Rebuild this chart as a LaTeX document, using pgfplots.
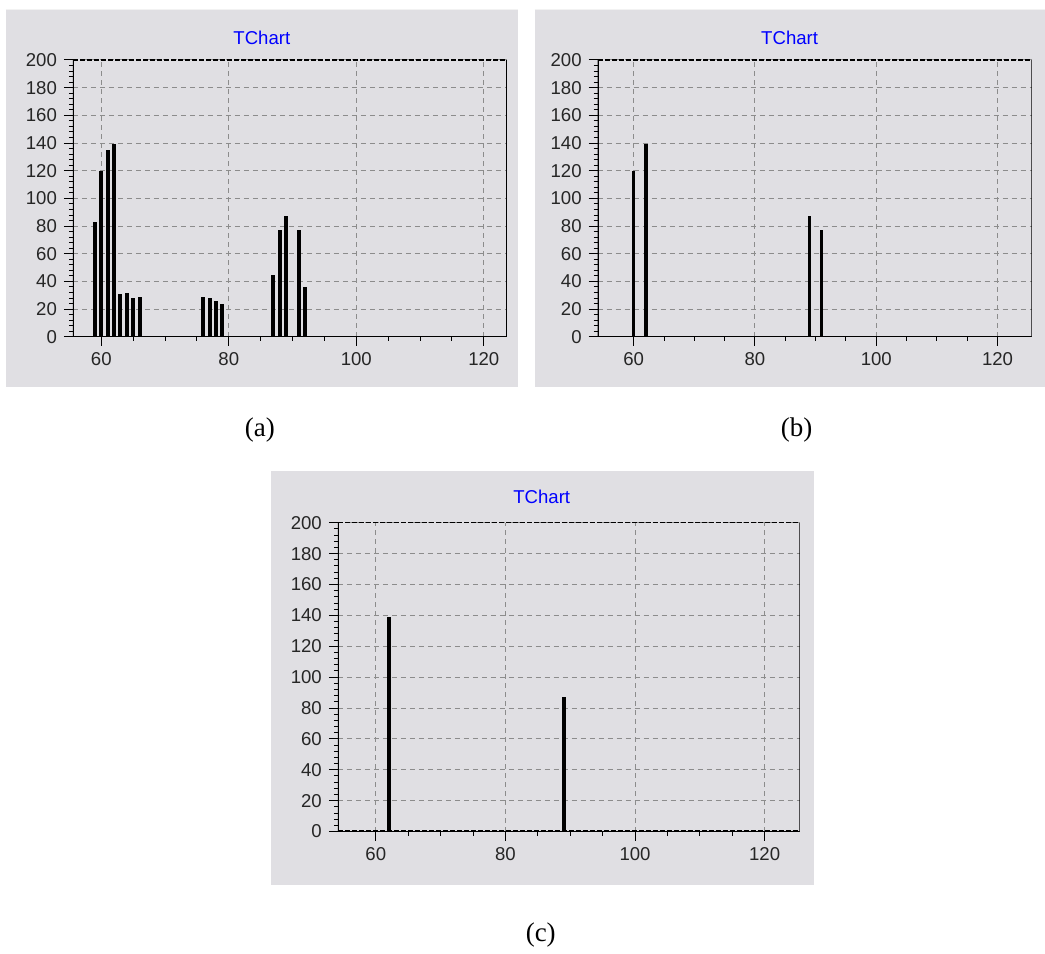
\documentclass[border=0pt]{standalone}
\usepackage{pgfplots}
\pgfplotsset{compat=1.18}
\usepackage{fontspec}
\setmainfont{Liberation Sans}
\newfontfamily\timesfont{Liberation Serif}
\definecolor{panelbg}{RGB}{224,223,227}
\definecolor{gridgray}{RGB}{140,140,140}
\definecolor{tblue}{RGB}{0,0,255}
\pgfplotsset{tchart/.style={
  scale only axis,
  ymin=0, ymax=200,
  ytick={0,20,...,200},
  xtick={60,80,100,120},
  minor x tick num=3,
  minor y tick num=4,
  tick align=outside,
  tick pos=left,
  major tick length=4.5pt,
  minor tick length=2pt,
  grid=major,
  major grid style={gridgray, line width=0.5pt, dash pattern=on 2.5pt off 2pt},
  axis line style={draw=none},
  tick style={black, line width=0.5pt},
  ticklabel style={font=\fontsize{9.3}{10}\selectfont, text=black!85},
  /pgf/number format/assume math mode=true,
}}
\newcommand{\tframe}{%
  \draw[black, line width=1.3pt] (rel axis cs:0,0) -- (rel axis cs:0,1);
  \draw[black, line width=0.6pt] (rel axis cs:0,0) -- (rel axis cs:1,0);
  \draw[black, line width=1.2pt, dash pattern=on 2.5pt off 1pt] (rel axis cs:0,0) -- (rel axis cs:1,0);
  \draw[black, line width=0.7pt, dash pattern=on 2.5pt off 1pt] (rel axis cs:0,1) -- (rel axis cs:1,1);
  \draw[black, line width=0.6pt] (rel axis cs:1,0) -- (rel axis cs:1,1);
}
\begin{document}
\begin{tikzpicture}
\path[fill=white] (0,0) rectangle (522.5pt,475.5pt);
% panel backgrounds
\fill[panelbg] (3pt,282pt) rectangle (259pt,470.5pt);
\fill[panelbg] (267.5pt,282pt) rectangle (522.5pt,470.5pt);
\fill[panelbg] (135.5pt,33pt) rectangle (407pt,240pt);
\draw[white!90!gray, line width=0.5pt] (3pt,470.5pt) -- (259pt,470.5pt);
\draw[white!90!gray, line width=0.5pt] (267.5pt,470.5pt) -- (522.5pt,470.5pt);
% titles
\node[text=tblue, font=\fontsize{9.3}{10}\selectfont] at (131pt,456.5pt) {TChart};
\node[text=tblue, font=\fontsize{9.3}{10}\selectfont] at (395pt,456.5pt) {TChart};
\node[text=tblue, font=\fontsize{9.3}{10}\selectfont] at (271pt,227pt) {TChart};
% sub labels
\node[font=\timesfont\fontsize{13.5}{15}\selectfont] at (130pt,260.5pt) {(a)};
\node[font=\timesfont\fontsize{13.5}{15}\selectfont] at (398.5pt,260.5pt) {(b)};
\node[font=\timesfont\fontsize{13.5}{15}\selectfont] at (270.5pt,8pt) {(c)};
% (a)
\begin{axis}[tchart, at={(36.5pt,307pt)}, anchor=south west,
  width=217pt, height=138.5pt, xmin=55.55, xmax=123.6]
\addplot[ycomb, black, line width=2pt] coordinates {
(59,83) (60,120) (61,135) (62,139) (63,31) (64,32) (65,28) (66,29)
(76,29) (77,28) (78,26) (79,24)
(87,45) (88,77) (89,87) (91,77) (92,36)};
\tframe
\end{axis}
% (b)
\begin{axis}[tchart, at={(299pt,307pt)}, anchor=south west,
  width=217pt, height=138.5pt, xmin=54.07, xmax=125.6]
\addplot[ycomb, black, line width=1.8pt] coordinates {
(60,120) (62,139) (89,87) (91,77)};
\tframe
\end{axis}
% (c)
\begin{axis}[tchart, at={(169pt,59.5pt)}, anchor=south west,
  width=231pt, height=154.5pt, xmin=54.14, xmax=125.4]
\addplot[ycomb, black, line width=1.8pt] coordinates {
(62,139) (89,87)};
\tframe
\end{axis}
\end{tikzpicture}
\end{document}
